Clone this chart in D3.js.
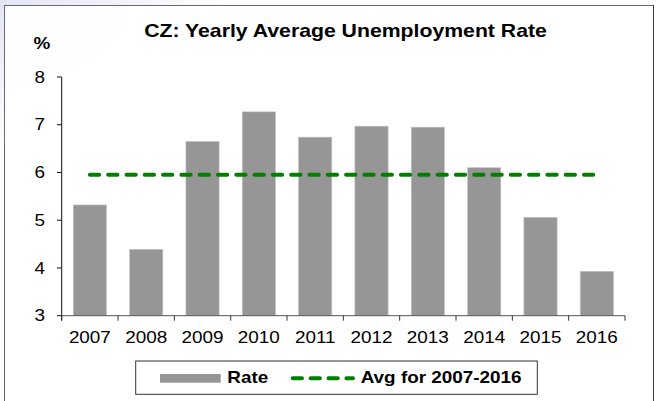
<html>
<head>
  <title>CZ unemployment</title>
  <script src="https://d3js.org/d3.v7.min.js"></script>
  <style>
    body { margin: 0; background: #fff; }
    text { font-family: "Liberation Sans", Arial, sans-serif; fill: #000; }
  </style>
</head>
<body>
  <script>

	// values
	var years = ['2007', '2008', '2009', '2010', '2011', '2012', '2013', '2014', '2015', '2016'];
	var rates = [5.32, 4.39, 6.65, 7.27, 6.74, 6.97, 6.95, 6.10, 5.06, 3.93];
	var avgRate = [5.95, 5.95];
	var yTicks = [3, 4, 5, 6, 7, 8];
	var title = 'CZ: Yearly Average Unemployment Rate';
	var legendLabels = ['Rate', 'Avg for 2007-2016'];

	var W = 669, H = 401;
	var stretch = 1.18; // the source text is a bit wider than plain Arial

	var svg = d3.select('body')
	            .append('svg')
	              .attr('width', W)
	              .attr('height', H);

	// faint watermark in the top-left corner
	var grad = svg.append('defs').append('radialGradient')
	    .attr('id', 'wm').attr('cx', 0).attr('cy', 0).attr('r', 1);
	grad.append('stop').attr('offset', 0).attr('stop-color', '#e3e5f5');
	grad.append('stop').attr('offset', 1).attr('stop-color', '#ffffff');
	svg.append('rect')
	    .attr('x', 0).attr('y', 0)
	    .attr('width', 230).attr('height', 150)
	    .attr('fill', 'url(#wm)');

	// chart frame, open at the bottom
	svg.append('rect')
	    .attr('x', 4.5).attr('y', 5.5)
	    .attr('width', 649).attr('height', 420)
	    .attr('fill', '#fff').attr('fill-opacity', 0.92)
	    .attr('stroke', '#6a6a6a').attr('stroke-width', 1);
	svg.append('line')
	    .attr('x1', 653.5).attr('x2', 653.5)
	    .attr('y1', 5).attr('y2', H)
	    .attr('stroke', '#3a3a3a');

	function label(g, x, y, str, size, weight, anchor){
	    g.append('text')
	      .attr('transform', 'translate(' + x + ',' + y + ') scale(' + stretch + ',1)')
	      .attr('font-size', size)
	      .attr('font-weight', weight)
	      .attr('text-anchor', anchor)
	      .text(str);
	}

	var x = d3.scaleBand()
	          .domain(years)
	          .range([61.7, 625])
	          .paddingInner(0.41)
	          .paddingOuter(0.205);

	var y = d3.scaleLinear()
	          .domain([3, 8])
	          .range([315.7, 77]);

	var plot = svg.append('g');

	// bars
	plot.selectAll('rect.bar')
	  .data(rates)
	  .enter()
	  .append('rect')
	    .attr('class', 'bar')
	    .attr('x', function(d, i){ return x(years[i]); })
	    .attr('width', x.bandwidth())
	    .attr('y', function(d){ return y(d); })
	    .attr('height', function(d){ return y(3) - y(d); })
	    .attr('fill', '#969696')
	    .attr('stroke', '#c4c4c4')
	    .attr('stroke-width', 0.6);

	// average line, from first to last category centre
	var half = x.bandwidth() / 2;
	var avgLine = d3.line()
	    .x(function(d, i){ return x(years[i === 0 ? 0 : years.length - 1]) + half; })
	    .y(function(d){ return y(d); });

	plot.append('path')
	    .datum(avgRate)
	    .attr('d', avgLine)
	    .attr('fill', 'none')
	    .attr('stroke', '#008000')
	    .attr('stroke-width', 4)
	    .attr('stroke-linecap', 'round')
	    .attr('stroke-dasharray', '9.3,9');

	// y axis
	var yAxis = svg.append('g');
	yAxis.append('line')
	    .attr('x1', 61.7).attr('x2', 61.7)
	    .attr('y1', y(8)).attr('y2', y(3) + 5)
	    .attr('stroke', '#111');
	yAxis.selectAll('line.tick')
	  .data(yTicks)
	  .enter()
	  .append('line')
	    .attr('class', 'tick')
	    .attr('x1', 57).attr('x2', 61.7)
	    .attr('y1', function(d){ return y(d); })
	    .attr('y2', function(d){ return y(d); })
	    .attr('stroke', '#111');
	yTicks.forEach(function(t){
	    label(yAxis, 45, y(t) + 5.6, String(t), 16, 'normal', 'end');
	});
	label(svg, 42, 48.5, '%', 16, 'bold', 'middle');

	// x axis
	var xAxis = svg.append('g');
	xAxis.append('line')
	    .attr('x1', 61.7).attr('x2', 625)
	    .attr('y1', y(3)).attr('y2', y(3))
	    .attr('stroke', '#555');
	var bounds = years.map(function(d){ return x(d) - x.step() * x.paddingInner() / 2; });
	bounds.push(625);
	xAxis.selectAll('line.tick')
	  .data(bounds)
	  .enter()
	  .append('line')
	    .attr('class', 'tick')
	    .attr('x1', function(d){ return d; })
	    .attr('x2', function(d){ return d; })
	    .attr('y1', y(3)).attr('y2', y(3) + 5)
	    .attr('stroke', '#333');
	years.forEach(function(yr){
	    label(xAxis, x(yr) + half, 343.3, yr, 16, 'normal', 'middle');
	});

	// title
	label(svg, 345.5, 37, title, 18, 'bold', 'middle');

	// legend
	var lg = svg.append('g');
	lg.append('rect')
	    .attr('x', 135.7).attr('y', 361)
	    .attr('width', 401.6).attr('height', 33.3)
	    .attr('fill', '#fff')
	    .attr('stroke', '#333');
	lg.append('rect')
	    .attr('x', 160).attr('y', 374)
	    .attr('width', 60.7).attr('height', 8.7)
	    .attr('fill', '#969696');
	label(lg, 227.3, 383.3, legendLabels[0], 16, 'bold', 'start');
	lg.append('line')
	    .attr('x1', 292.7).attr('x2', 353)
	    .attr('y1', 378.3).attr('y2', 378.3)
	    .attr('stroke', '#008000')
	    .attr('stroke-width', 4)
	    .attr('stroke-linecap', 'round')
	    .attr('stroke-dasharray', '9.3,8.6');
	label(lg, 360.7, 383.3, legendLabels[1], 16, 'bold', 'start');

  </script>
</body>
</html>
